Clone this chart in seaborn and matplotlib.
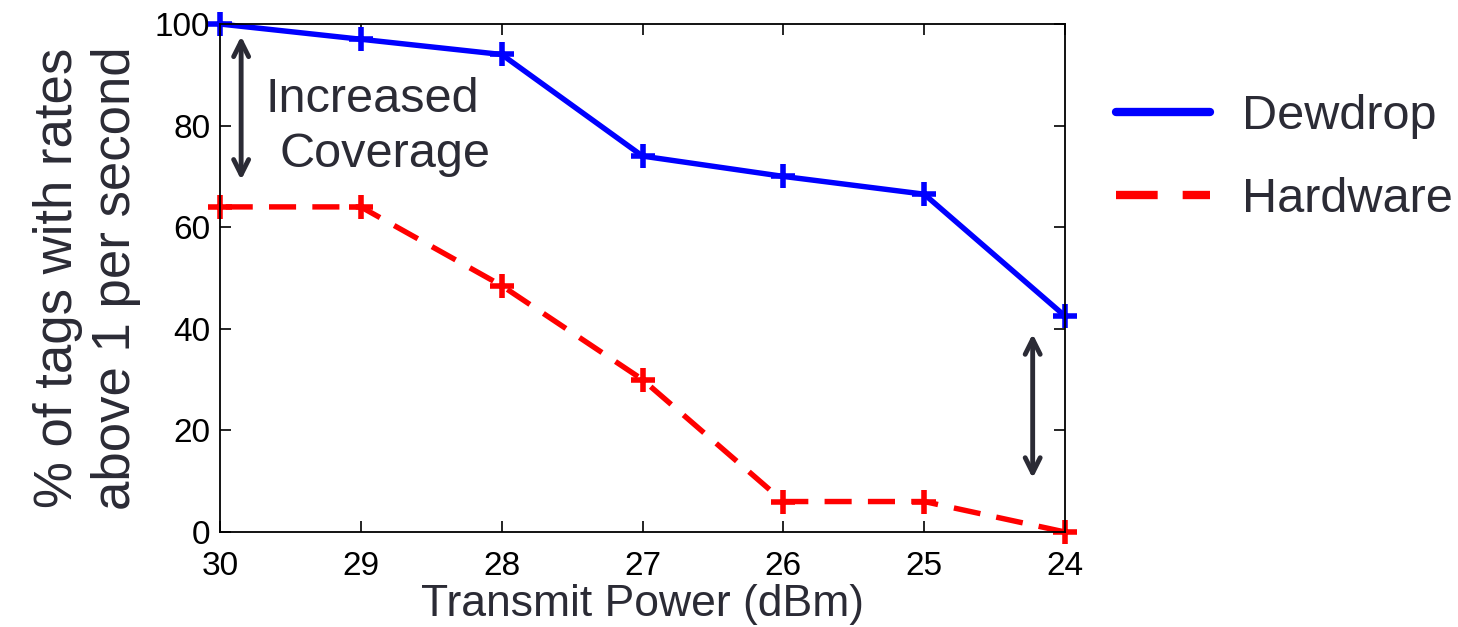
import matplotlib
matplotlib.use("Agg")
import matplotlib.pyplot as plt
import seaborn as sns
import pandas as pd

power = [30, 29, 28, 27, 26, 25, 24]
dewdrop = [100, 97, 94, 74, 70, 66.5, 42.5]
hardware = [64, 64, 48.5, 30, 6, 6, 0]
xticks = [30, 29, 28, 27, 26, 25, 24]
yticks = [0, 20, 40, 60, 80, 100]

sns.set_theme(style="ticks")
plt.rcParams['font.family'] = ['Liberation Sans', 'DejaVu Sans']

fig = plt.figure(figsize=(14.58, 6.27), dpi=100)
ax = fig.add_axes([0.1509, 0.1515, 0.5796, 0.8102])

sns.lineplot(x=power, y=dewdrop, color="#0000ff", linewidth=3.9, marker="+",
             markersize=17, markeredgewidth=4, markeredgecolor="#0000ff",
             label="Dewdrop", ax=ax)
sns.lineplot(x=power, y=hardware, color="#ff0000", linewidth=3.9, marker="+",
             markersize=17, markeredgewidth=4, markeredgecolor="#ff0000",
             label="Hardware", ax=ax)
ax.lines[1].set_dashes((5, 3))
for ln in ax.lines:
    ln.set_clip_on(False)

ax.set_xlim(30, 24)
ax.set_ylim(0, 100)
ax.set_xticks(xticks)
ax.set_yticks(yticks)
ax.tick_params(direction="in", length=8, width=1.2, labelsize=24, colors="black",
               top=True, right=True, pad=7)
ax.tick_params(axis="x", pad=14)
for sp in ax.spines.values():
    sp.set_linewidth(1.3)
    sp.set_color("black")

txt = "#2b2b35"
ax.set_xlabel("Transmit Power (dBm)", fontsize=32, color=txt, labelpad=1)
ax.set_ylabel("% of tags with rates\nabove 1 per second", fontsize=38, color=txt,
              labelpad=10, linespacing=1.2)

arrow_kw = dict(arrowstyle="<->,head_length=0.9,head_width=0.45", color="#2b2b35", lw=3.5,
                shrinkA=0, shrinkB=0)
ax.annotate("", xy=(29.85, 97.6), xytext=(29.85, 69.3), arrowprops=arrow_kw)
ax.annotate("", xy=(24.23, 39.0), xytext=(24.23, 10.6), arrowprops=arrow_kw)
ax.text(28.917, 82.7, "Increased", fontsize=35, color=txt, ha="center", va="baseline")
ax.text(28.832, 71.9, "Coverage", fontsize=35, color=txt, ha="center", va="baseline")

handles, labels = ax.get_legend_handles_labels()
leg = ax.legend(handles, labels, loc="upper left", bbox_to_anchor=(1.008, 0.949),
                frameon=False, fontsize=35, handlelength=1.95, handletextpad=0.66,
                labelspacing=0.78, labelcolor=txt)
for h in leg.get_lines():
    h.set_marker("")
    h.set_linewidth(6)

fig.savefig("out.png", dpi=100)
